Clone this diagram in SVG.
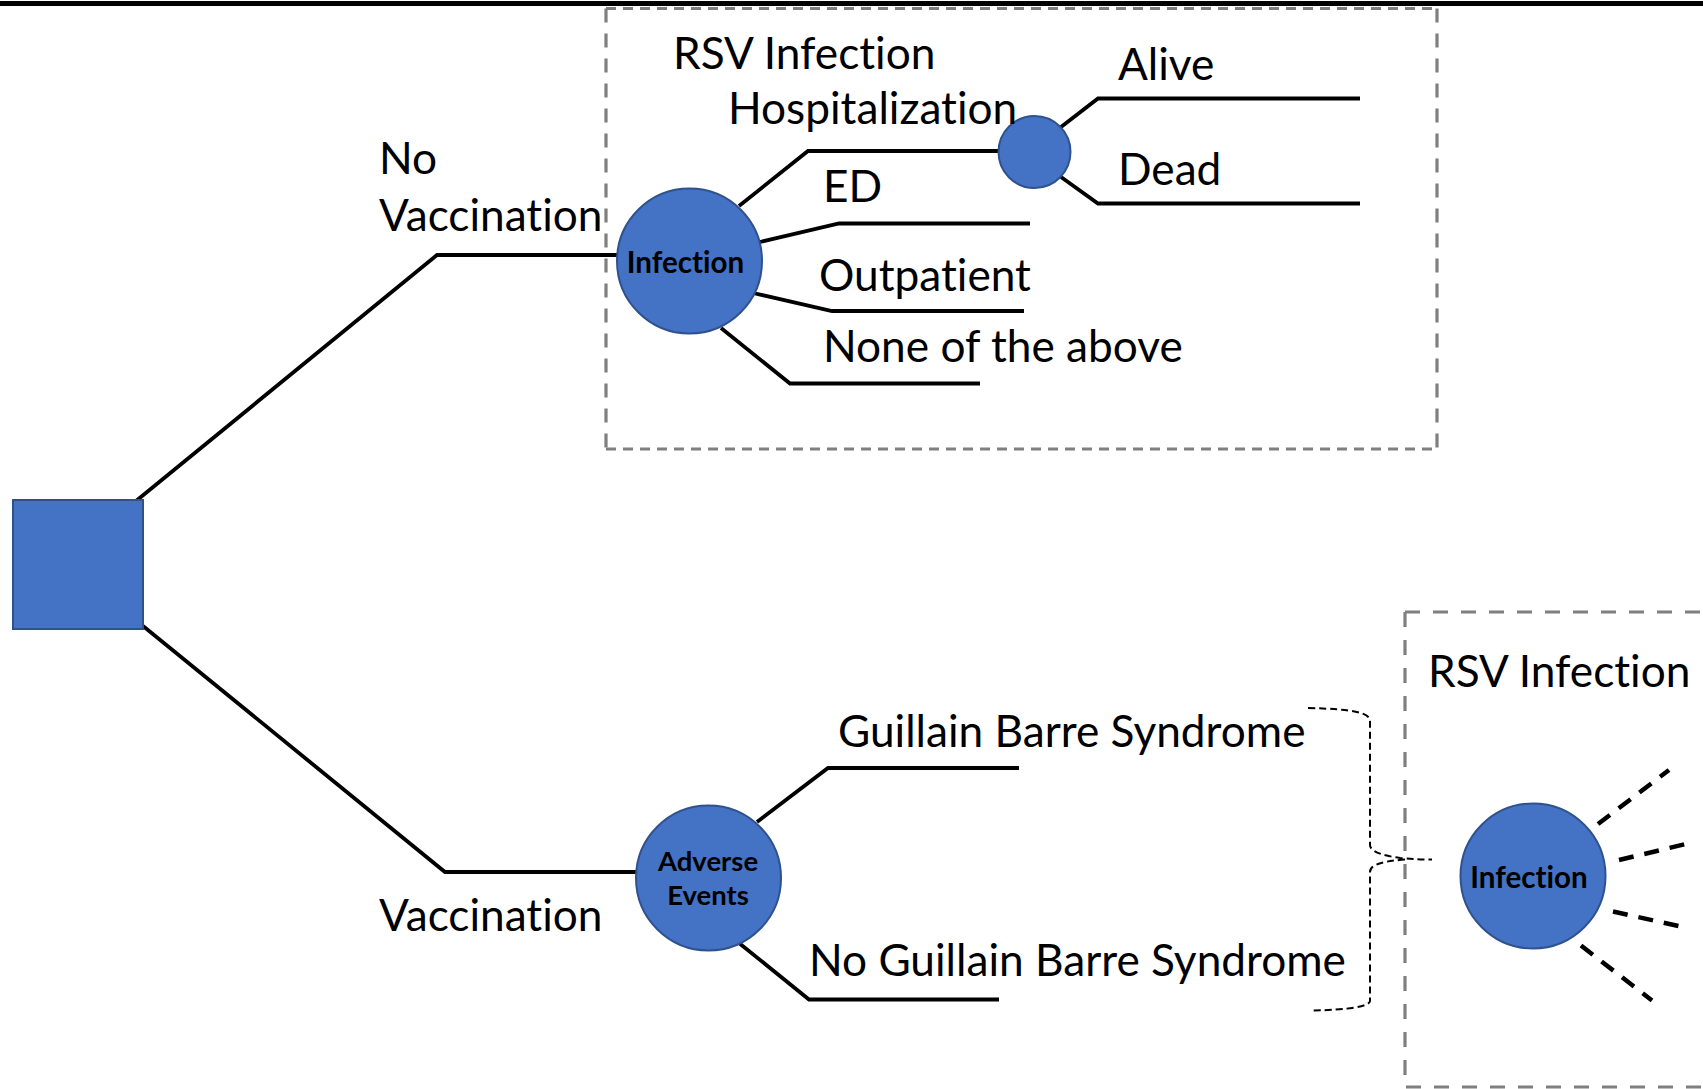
<svg xmlns="http://www.w3.org/2000/svg" width="1703" height="1089" viewBox="0 0 1703 1089">
<style>
.bg{fill:#ffffff}
.lbl{font-family:Lato,"Liberation Sans",sans-serif;font-size:44.2px;fill:#000;font-variant-ligatures:none;font-feature-settings:"liga" 0,"dlig" 0}
.nlbl{font-family:Lato,"Liberation Sans",sans-serif;font-weight:bold;fill:#000;text-anchor:middle;font-variant-ligatures:none;font-feature-settings:"liga" 0}
.node{fill:#4472C4;stroke:#2F528F;stroke-width:2}
.edge{fill:none;stroke:#000;stroke-width:3.8;stroke-linejoin:miter}
.dash{fill:none;stroke:#000;stroke-width:4.5;stroke-dasharray:15 11}
.boxh{fill:none;stroke:#7F7F7F;stroke-width:3.2;stroke-dasharray:10 7}
.boxv{fill:none;stroke:#7F7F7F;stroke-width:3.2;stroke-dasharray:14 11}
.box2{fill:none;stroke:#7F7F7F;stroke-width:3.2;stroke-dasharray:15 13}
.brace{fill:none;stroke:#000;stroke-width:2;stroke-dasharray:7 4}
</style>
<rect class="bg" x="0" y="0" width="1703" height="1089"/>
<line x1="0" y1="3.5" x2="1703" y2="3.5" stroke="#000" stroke-width="5"/>

<g id="frames">
  <path class="boxh" d="M606,8.5 H1437 M606,449 H1437"/>
  <path class="boxv" d="M606,8.5 V449 M1437,8.5 V449"/>
  <path class="box2" d="M1405,612 H1710 M1405,612 V1087 H1710"/>
</g>

<g id="connectors">
  <path class="edge" d="M136,501 L437,255 H617"/>
  <path class="edge" d="M143,626 L445,872 H636"/>
  <path class="edge" d="M739,206 L808,151 H999"/>
  <path class="edge" d="M760,242 L839,223.5 H1030"/>
  <path class="edge" d="M753,293 L832,311 H1024"/>
  <path class="edge" d="M721,328 L790,383.5 H980"/>
  <path class="edge" d="M1061,127 L1098,98.5 H1360"/>
  <path class="edge" d="M1061,177 L1098,203.5 H1360"/>
  <path class="edge" d="M757,822 L828,768 H1019"/>
  <path class="edge" d="M739,943 L809,999.5 H999"/>
  <path class="dash" d="M1598,824 L1669,770"/>
  <path class="dash" d="M1619,860 L1690,843"/>
  <path class="dash" d="M1613,911.5 L1683,927"/>
  <path class="dash" d="M1581,945.5 L1652,1000.5"/>
  <path class="brace" d="M1308,708 C1350,709 1370,712 1370,721 V845 C1370,852 1385,856 1400,858 C1412,859 1422,859.5 1432,859.5"/>
  <path class="brace" d="M1405,859.5 C1385,861 1370,864 1370,872 V1001 C1370,1006 1350,1010 1311,1010.5"/>
</g>

<g id="decision">
  <rect class="node" x="13" y="500" width="130" height="129"/>
</g>

<g id="chance-infection">
  <circle class="node" cx="689.5" cy="261" r="72.5"/>
  <text class="nlbl" x="685.5" y="273" font-size="29.6">Infection</text>
</g>
<g id="chance-hosp">
  <circle class="node" cx="1034.5" cy="152" r="36"/>
</g>
<g id="chance-adverse">
  <circle class="node" cx="708.5" cy="878" r="72.5"/>
  <text class="nlbl" x="708" y="871" font-size="27.5">Adverse</text>
  <text class="nlbl" x="708" y="905" font-size="27.5">Events</text>
</g>
<g id="chance-infection2">
  <circle class="node" cx="1533" cy="876" r="72.5"/>
  <text class="nlbl" x="1529" y="888" font-size="29.6">Infection</text>
</g>

<g id="labels">
  <text class="lbl" x="379" y="174">No</text>
  <text class="lbl" x="379" y="231">Vaccination</text>
  <text class="lbl" x="379" y="931">Vaccination</text>
  <text class="lbl" x="673" y="69">RSV Infection</text>
  <text class="lbl" x="728" y="124">Hospitalization</text>
  <text class="lbl" x="1118" y="80">Alive</text>
  <text class="lbl" x="1118" y="185">Dead</text>
  <text class="lbl" x="823" y="202">ED</text>
  <text class="lbl" x="819" y="291">Outpatient</text>
  <text class="lbl" x="823" y="362">None of the above</text>
  <text class="lbl" x="838" y="747">Guillain Barre Syndrome</text>
  <text class="lbl" x="809" y="976">No Guillain Barre Syndrome</text>
  <text class="lbl" x="1428" y="687">RSV Infection</text>
</g>
</svg>
